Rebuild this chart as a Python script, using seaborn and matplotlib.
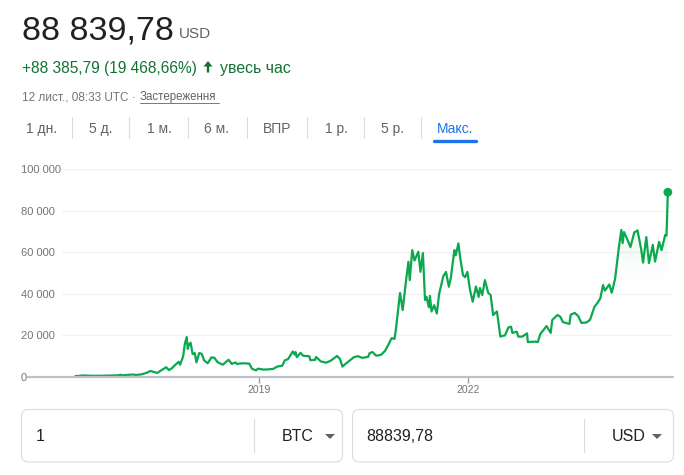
import numpy as np
import pandas as pd
import matplotlib.pyplot as plt
import matplotlib.dates as mdates
import matplotlib.colors as mcolors
from matplotlib.transforms import Affine2D
from matplotlib.patches import FancyBboxPatch, Polygon
from matplotlib.lines import Line2D
import seaborn as sns

# BTC/USD, max range
dates = [
    '2016-05-12', '2016-06-01', '2016-06-17', '2016-07-15', '2016-08-15', '2016-10-01',
    '2016-11-15', '2016-12-20', '2017-01-04', '2017-01-12', '2017-02-20', '2017-03-10',
    '2017-03-25', '2017-04-25', '2017-05-20', '2017-06-10', '2017-07-15', '2017-08-05',
    '2017-08-31', '2017-09-15', '2017-10-01', '2017-10-20', '2017-11-05', '2017-11-12',
    '2017-11-28', '2017-12-07', '2017-12-17', '2017-12-22', '2017-12-28', '2018-01-06',
    '2018-01-17', '2018-01-28', '2018-02-06', '2018-02-20', '2018-03-05', '2018-03-18',
    '2018-04-06', '2018-04-25', '2018-05-10', '2018-05-28', '2018-06-24', '2018-07-24',
    '2018-08-10', '2018-08-30', '2018-09-08', '2018-09-20', '2018-10-15', '2018-11-10',
    '2018-11-20', '2018-11-25', '2018-12-15', '2018-12-25', '2019-01-20', '2019-02-10',
    '2019-03-15', '2019-04-05', '2019-05-01', '2019-05-15', '2019-06-01', '2019-06-26',
    '2019-07-05', '2019-07-10', '2019-07-17', '2019-08-05', '2019-08-20', '2019-09-20',
    '2019-09-26', '2019-10-20', '2019-10-26', '2019-11-20', '2019-12-18', '2020-01-10',
    '2020-02-13', '2020-02-28', '2020-03-12', '2020-04-01', '2020-04-30', '2020-05-10',
    '2020-06-01', '2020-06-25', '2020-07-25', '2020-08-02', '2020-08-17', '2020-09-05',
    '2020-10-01', '2020-10-21', '2020-11-05', '2020-11-25', '2020-12-10', '2020-12-17',
    '2021-01-08', '2021-01-22', '2021-02-08', '2021-02-21', '2021-02-28', '2021-03-13',
    '2021-03-25', '2021-04-14', '2021-04-25', '2021-05-08', '2021-05-19', '2021-05-27',
    '2021-06-08', '2021-06-14', '2021-06-22', '2021-07-06', '2021-07-20', '2021-08-01',
    '2021-08-23', '2021-09-06', '2021-09-21', '2021-10-01', '2021-10-20', '2021-10-27',
    '2021-11-10', '2021-11-20', '2021-12-04', '2021-12-15', '2021-12-27', '2022-01-10',
    '2022-01-24', '2022-02-10', '2022-02-24', '2022-03-03', '2022-03-15', '2022-03-29',
    '2022-04-15', '2022-04-28', '2022-05-11', '2022-05-31', '2022-06-18', '2022-07-01',
    '2022-07-12', '2022-07-30', '2022-08-13', '2022-08-20', '2022-09-12', '2022-09-20',
    '2022-10-10', '2022-11-05', '2022-11-09', '2022-12-15', '2022-12-31', '2023-01-14',
    '2023-01-30', '2023-02-15', '2023-03-09', '2023-03-17', '2023-04-13', '2023-04-28',
    '2023-05-12', '2023-06-15', '2023-06-22', '2023-07-13', '2023-07-31', '2023-08-17',
    '2023-09-12', '2023-10-01', '2023-10-24', '2023-11-08', '2023-11-24', '2023-12-08',
    '2023-12-18', '2024-01-10', '2024-01-23', '2024-02-10', '2024-02-28', '2024-03-13',
    '2024-03-20', '2024-03-27', '2024-04-12', '2024-04-30', '2024-05-20', '2024-06-06',
    '2024-06-25', '2024-07-05', '2024-07-22', '2024-08-05', '2024-08-25', '2024-09-06',
    '2024-09-27', '2024-10-10', '2024-10-29', '2024-11-05', '2024-11-12',
]
prices = [
    454, 530, 750, 660, 570, 610,
    710, 800, 1100, 800, 1050, 1200,
    950, 1300, 2000, 2900, 1950, 3200,
    4700, 3300, 4300, 6000, 7300, 5900,
    9900, 16000, 19200, 13500, 15500, 16500,
    11000, 11500, 7000, 11500, 11200, 8000,
    6600, 9400, 9300, 7100, 5900, 8300,
    6300, 7000, 6200, 6500, 6600, 6400,
    4600, 3900, 3200, 4000, 3600, 3600,
    3900, 5000, 5400, 8000, 8600, 12300,
    10800, 12000, 9500, 11600, 10200, 10000,
    8100, 8200, 9600, 7500, 6900, 7800,
    10100, 8700, 5000, 6600, 8700, 9500,
    10000, 9200, 9700, 11500, 12000, 10200,
    10700, 12500, 15000, 18700, 18300, 22600,
    40400, 32200, 46000, 55400, 46600, 61000,
    56000, 60200, 50600, 59600, 37000, 38500,
    33500, 39000, 31500, 34500, 30500, 40000,
    48500, 50500, 43400, 47500, 61000, 58500,
    64200, 57000, 49000, 48000, 50500, 41800,
    36200, 43500, 38500, 42800, 39400, 46600,
    40500, 39400, 29800, 31500, 19400, 19800,
    20000, 23800, 24200, 21200, 21800, 19400,
    19400, 21000, 16800, 17000, 16800, 20800,
    22600, 24500, 21200, 27400, 29800, 29000,
    26400, 25500, 30000, 30800, 29300, 26000,
    26200, 27500, 33700, 35500, 37800, 44200,
    41500, 44500, 40500, 47500, 61500, 70700,
    64400, 69700, 66500, 62500, 69500, 70500,
    61500, 55000, 67300, 54800, 63500, 55500,
    65000, 61000, 68300, 68000, 88840,
]

y_ticks = [0, 20000, 40000, 60000, 80000, 100000]
y_labels = ['0', '20 000', '40 000', '60 000', '80 000', '100 000']
x_ticks = ['2019-01-01', '2022-01-01']
x_labels = ['2019', '2022']
tabs = ['1 дн.', '5 д.', '1 м.', '6 м.', 'ВПР', '1 р.', '5 р.', 'Макс.']

sns.set_style('white')
plt.rcParams['font.family'] = ['Liberation Sans', 'DejaVu Sans']

W, H = 684, 475
GREEN = '#0ca84f'
DARK = '#202124'
GRAY = '#5f6368'
LGRAY = '#70757a'
UPGREEN = '#137333'

fig = plt.figure(figsize=(W / 100, H / 100), dpi=100)
fig.patch.set_facecolor('white')
# pixel coordinates, origin top-left
px = Affine2D().scale(1 / W, -1 / H).translate(0, 1) + fig.transFigure

ax = fig.add_axes([62 / W, 1 - 377 / H, 611 / W, 208 / H])
df = pd.DataFrame({'date': pd.to_datetime(dates), 'price': prices})

sns.lineplot(data=df, x='date', y='price', color=GREEN, lw=1.6, ax=ax,
             estimator=None, zorder=3)
sns.scatterplot(x=df['date'].iloc[-1:], y=df['price'].iloc[-1:], s=40, color=GREEN,
                edgecolor='none', zorder=5, ax=ax, clip_on=False)

# faint gradient under the line
xmin, xmax = pd.Timestamp('2016-03-03'), pd.Timestamp('2024-12-09')
fill = ax.fill_between(df['date'], df['price'], 0, color='none', lw=0)
levels = np.linspace(0, 100000, 256)
rgba = np.zeros((256, 1, 4))
rgba[..., :3] = mcolors.to_rgb(GREEN)
rgba[:, 0, 3] = np.clip((levels - 45000) / 45000, 0, 1) * 0.13
im = ax.imshow(rgba, extent=[mdates.date2num(xmin), mdates.date2num(xmax), 0, 100000],
               origin='lower', aspect='auto', zorder=2, interpolation='bilinear')
im.set_clip_path(fill.get_paths()[0], transform=ax.transData)

ax.set_xlim(xmin, xmax)
ax.set_ylim(0, 100000)
for s in ax.spines.values():
    s.set_visible(False)
ax.set_axisbelow(True)
ax.yaxis.grid(True, color='#f1f3f4', lw=1)
ax.xaxis.grid(False)
ax.axhline(0, xmin=-34 / 611, xmax=1, color='#bdc1c6', lw=1.6, clip_on=False, zorder=4)

ax.set_yticks(y_ticks)
ax.set_yticklabels(y_labels)
ax.tick_params(axis='y', length=0, pad=29.5, labelsize=8, labelcolor=LGRAY)
for lbl in ax.get_yticklabels():
    lbl.set_horizontalalignment('left')
ax.set_xticks(pd.to_datetime(x_ticks))
ax.set_xticklabels(x_labels)
ax.tick_params(axis='x', length=4.5, width=1, color='#9aa0a6', labelsize=7.5,
               labelcolor=LGRAY, pad=1.5, bottom=True)
ax.set_xlabel('')
ax.set_ylabel('')

# header
fig.text(22, 39, '88 839,78', transform=px, fontsize=24.5, color=DARK, va='baseline')
fig.text(179, 38, 'USD', transform=px, fontsize=11, color=GRAY, va='baseline')
fig.text(22, 73, '+88 385,79 (19 468,66%)', transform=px, fontsize=11.2, color=UPGREEN,
         va='baseline')
# up arrow icon
fig.add_artist(Polygon([[203.5, 66.5], [208, 61], [212.5, 66.5], [209.2, 66.5],
                        [209.2, 72.5], [206.8, 72.5], [206.8, 66.5]], closed=True,
                       transform=px, color=UPGREEN, lw=0))
fig.text(220, 73, 'увесь час', transform=px, fontsize=11.4, color=UPGREEN,
         va='baseline')
fig.text(22, 100, '12 лист., 08:33 UTC · ', transform=px, fontsize=8.5, color=LGRAY,
         va='baseline')
fig.text(140, 100, 'Застереження', transform=px, fontsize=8.3, color=GRAY, va='baseline')
fig.add_artist(Line2D([140, 219], [102.5, 102.5], transform=px, color=GRAY, lw=0.6))

# range tabs
tab_x = [26, 89, 147, 204, 263, 325, 381, 437]
for t, x in zip(tabs, tab_x):
    fig.text(x, 133, t, transform=px, fontsize=10, va='baseline',
             color='#1a73e8' if t == 'Макс.' else GRAY)
for x in [72, 129, 188, 247, 307, 364, 421]:
    fig.add_artist(Line2D([x, x], [117, 138], transform=px, color='#dadce0', lw=0.8))
fig.add_artist(Line2D([434, 476], [140.5, 140.5], transform=px, color='#1a73e8', lw=2.4,
                      solid_capstyle='round'))

# converter boxes
for x0, sep, amount, cur, tri in [(21.5, 254, '1', 'BTC', 330),
                                  (352.5, 584, '88839,78', 'USD', 657)]:
    fig.add_artist(FancyBboxPatch((x0, 409.5), 321, 52.5, transform=px,
                                  boxstyle='round,pad=0,rounding_size=7',
                                  ec='#dadce0', fc='white', lw=0.8))
    fig.add_artist(Line2D([sep, sep], [419, 452], transform=px, color='#dadce0', lw=0.8))
    fig.text(x0 + 14, 441, amount, transform=px, fontsize=11.5, color=DARK, va='baseline')
    fig.text(sep + 28, 441, cur, transform=px, fontsize=11.5, color=DARK, va='baseline')
    fig.add_artist(Polygon([[tri - 5, 434], [tri + 5, 434], [tri, 439]], closed=True,
                           transform=px, color=GRAY, lw=0))

fig.savefig('out.png', dpi=100, facecolor='white')
